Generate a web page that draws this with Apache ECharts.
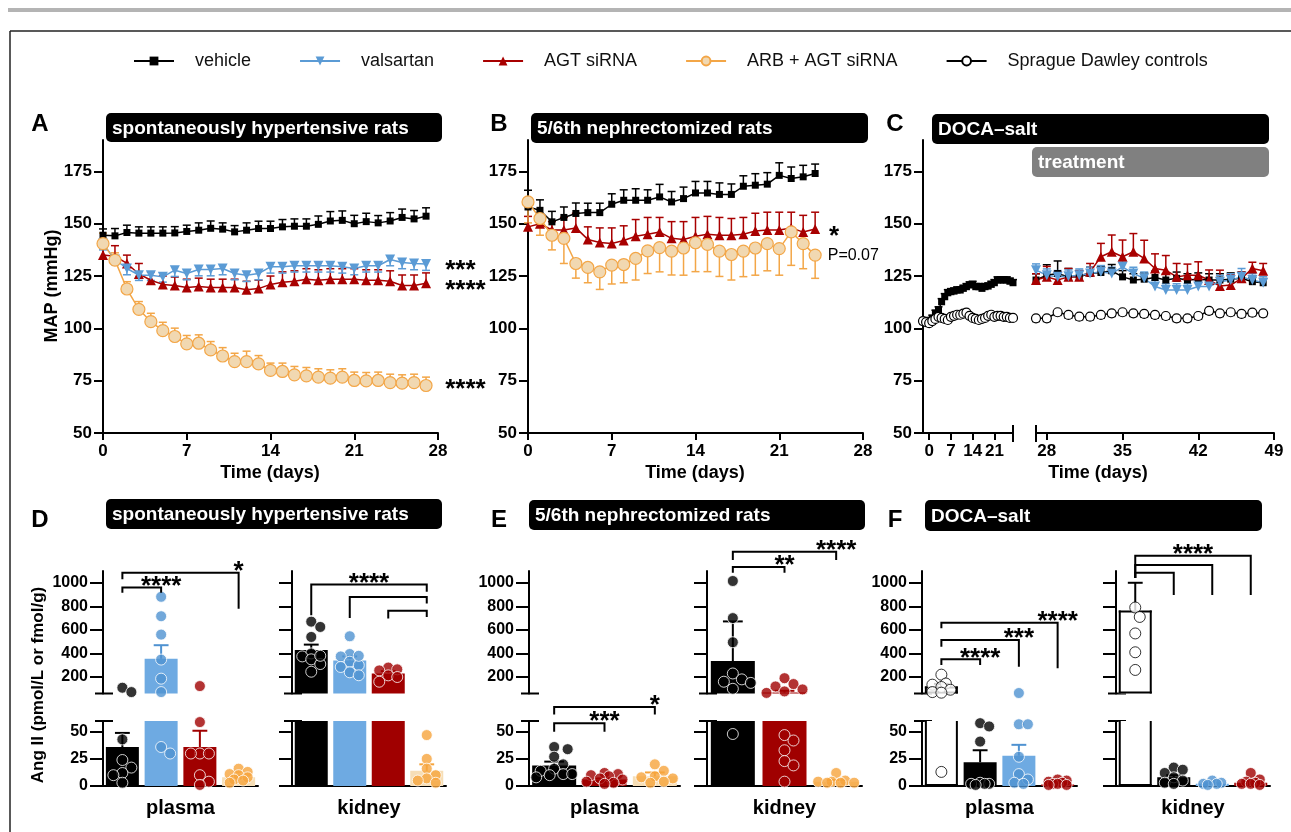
<!DOCTYPE html>
<html>
<head>
<meta charset="utf-8">
<script src="https://cdn.jsdelivr.net/npm/echarts@6/dist/echarts.min.js"></script>
<style>
html, body { margin: 0; padding: 0; background: #fff; }
#chart { width: 1291px; height: 832px; }
</style>
</head>
<body>
<div id="chart"></div>
<script>
// ---------- data: MAP time courses (mmHg) ----------
const mapTicks = [50, 75, 100, 125, 150, 175]

const shrDays = [0, 1, 2, 3, 4, 5, 6, 7, 8, 9, 10, 11, 12, 13, 14, 15, 16, 17, 18, 19, 20, 21, 22, 23, 24, 25, 26, 27]
const shrVehicle = [144.5, 144.2, 145.8, 145.5, 145.5, 145.5, 145.6, 146.3, 146.9, 147.8, 147.4, 146.1, 146.9, 147.7, 147.7, 148.5, 148.8, 148.8, 149.7, 151.3, 151.6, 150, 151, 150.4, 151.3, 153, 152.3, 153.6]
const shrVehicleSem = [3, 3.5, 3.5, 3, 3, 3, 3, 3, 3.5, 3.5, 3, 3, 3.5, 3.5, 3.5, 3.5, 3.5, 3.5, 4, 4.5, 4.5, 4, 4, 3.5, 4, 4, 4, 4]
const shrValsartan = [140.5, 132.9, 128.6, 125.4, 125.4, 124.6, 127.8, 126.2, 128.1, 128.1, 128.6, 126.2, 125.4, 126.2, 129.4, 129.4, 129.9, 129.9, 129.9, 129.9, 129.4, 128.6, 129.9, 129.9, 132.9, 131.5, 131, 130.7]
const shrValsartanSem = [3, 2.5, 3, 2.5, 2.5, 2.5, 3, 3, 3, 3, 3, 3, 3, 3, 3, 3, 3, 3, 3, 3, 3, 3, 3, 3, 3, 3, 3, 3]
const shrAgt = [135, 134.5, 131, 126, 123, 121, 120.5, 119.5, 120, 119.5, 119.5, 119.5, 118.5, 119, 121, 122, 122.5, 123.5, 123, 123.5, 123.5, 123.5, 123, 123, 122.5, 120.5, 120.5, 121.5]
const shrAgtSem = [5, 5, 4, 5, 4, 4, 4, 4, 4, 4, 4, 4, 4, 4, 4, 5, 5, 5, 5, 5, 5, 5, 5, 5, 5, 5, 5, 5]
const shrArb = [140.5, 132.6, 118.8, 109.1, 103.2, 98.9, 96.1, 92.6, 92.9, 89.7, 86.8, 84.1, 84.1, 83, 79.9, 79.4, 77.8, 77.3, 76.7, 76.2, 76.7, 75.1, 74.9, 75.1, 74.1, 73.8, 74.1, 72.7]
const shrArbSem = [5, 3.5, 3.5, 3.7, 4, 4, 4, 4, 4, 4, 4, 4, 5, 4, 3.5, 4, 4, 4, 4, 4, 4, 4, 4, 4, 4, 4, 4, 4]

const nxDays = [0, 1, 2, 3, 4, 5, 6, 7, 8, 9, 10, 11, 12, 13, 14, 15, 16, 17, 18, 19, 20, 21, 22, 23, 24]
const nxVehicle = [158, 156.4, 150.9, 153, 154.9, 155.3, 155.3, 159.3, 161.2, 161.2, 161.2, 162.8, 160.4, 162, 164.7, 164.7, 164, 164, 167.9, 168.4, 168.9, 173.1, 171.6, 172.4, 174]
const nxVehicleSem = [8, 5, 5, 5, 5, 4.5, 4.5, 5, 5, 5.5, 5, 6, 5, 5.5, 5.5, 5.5, 5.5, 5, 5, 5.5, 5.5, 6, 5.5, 5.5, 4.5]
const nxAgt = [148.5, 150, 147, 147, 148, 142.5, 141, 140.5, 142, 144, 145, 146, 143, 142.5, 144, 145, 144.5, 144.5, 145, 146.5, 147, 147, 148, 146, 147.5]
const nxAgtSem = [5, 3, 4, 6, 7, 6, 7, 7.5, 7, 8, 8, 7, 8, 8.5, 9, 8.5, 8.5, 8, 8, 8.5, 8.5, 8.5, 7.5, 8, 8]
const nxArb = [160.4, 152.5, 144.5, 143, 131, 129.1, 127, 130.2, 130.5, 133.4, 137, 138.6, 136.9, 138.4, 140.9, 140.1, 136.9, 135.3, 136.9, 138.4, 140.5, 138.1, 146.1, 140.5, 135]
const nxArbSem = [10, 8, 7, 12, 7, 7.3, 8.4, 9, 8.7, 10.3, 10.8, 11.6, 11.4, 13, 13.8, 13, 12.1, 12.2, 12.2, 13, 13, 12.7, 16, 12, 11.1]

const docaPreDays = [-2, -1, 0, 1, 2, 3, 4, 5, 6, 7, 8, 9, 10, 11, 12, 13, 14, 15, 16, 17, 18, 19, 20, 21, 22, 23, 24, 25, 26, 27]
const docaPreVehicle = [103.2, 103.2, 103.7, 104.8, 107.2, 108.8, 112.7, 115.1, 117, 117.5, 117.8, 118.3, 118.3, 119.1, 119.9, 120.7, 121, 119.9, 119.9, 119.1, 119.9, 120.2, 121, 121.8, 123.1, 123.1, 123.1, 123.1, 122.5, 121.8]
const docaPreVehicleSem = [1.5, 1.5, 1.5, 1.5, 1.5, 1.5, 1.5, 1.5, 1.5, 1.5, 1.5, 1.5, 1.5, 1.5, 1.5, 1.5, 1.5, 1.5, 1.5, 1.5, 1.5, 1.5, 1.5, 1.5, 1.5, 1.5, 1.5, 1.5, 1.5, 1.5]
const docaPreSd = [103.5, 103, 102.5, 103.5, 104.5, 105.5, 105, 104.5, 104, 105.5, 106, 106.5, 106.5, 107, 107.5, 106, 105, 104.5, 104, 104.5, 105, 106, 106.5, 105.5, 106, 106, 105.5, 105.5, 105, 105]

const docaDays = [27, 28, 29, 30, 31, 32, 33, 34, 35, 36, 37, 38, 39, 40, 41, 42, 43, 44, 45, 46, 47, 48]
const docaVehicle = [123.1, 125.4, 126.2, 124.6, 124.6, 126.2, 126.7, 127.5, 124.6, 123.1, 123.5, 124.3, 123.1, 123.9, 123.1, 123.5, 123.1, 123.1, 123.5, 123.9, 122.3, 121.8]
const docaVehicleSem = [3, 5, 6, 4, 3, 3, 3, 3, 3, 3, 3, 3, 3, 3, 3, 3, 3, 3, 3, 3, 2, 2]
const docaValsartan = [127.8, 125.4, 124.6, 124.9, 125.4, 126.2, 127, 126.2, 129.4, 126.2, 123.9, 120, 118.3, 118.3, 118.3, 120, 120, 122.3, 123.1, 124.6, 123.1, 121.8]
const docaValsartanSem = [3, 3, 3, 3, 3, 3, 3, 3, 3, 3, 3, 3, 3, 3, 3, 3, 3, 3, 3, 4, 3, 3]
const docaAgt = [123.1, 124.6, 123.1, 124.6, 124.6, 127, 134.2, 136.6, 134.2, 136.6, 133.4, 128.6, 127.8, 124.6, 125.4, 125.4, 123.1, 120.2, 120.7, 123.9, 128.6, 127.5]
const docaAgtSem = [3, 5, 4, 4, 3, 4, 6.4, 8, 8, 8.7, 8.7, 7, 7, 6.4, 5.3, 6.4, 4.8, 7.6, 5, 3, 3, 3.5]
const docaSd = [104.8, 104.8, 107.7, 106.4, 105.6, 105.6, 106.4, 107.2, 107.7, 107.2, 106.9, 106.4, 105.9, 104.8, 104.8, 105.9, 108.4, 107.2, 107.7, 106.9, 107.5, 107.2]
const docaSdSem = [1.5, 1.5, 1.5, 1.5, 1.5, 1.5, 1.5, 1.5, 1.5, 1.5, 1.5, 1.5, 1.5, 1.5, 1.5, 1.5, 1.5, 1.5, 1.5, 1.5, 1.5, 1.5]

// significance text next to the curves: [day, mmHg, text]
const shrNotes = [[28.6, 130.5, '***'], [28.6, 121, '****'], [28.6, 73.5, '****']]
const nxNotes = [[25.15, 146.4, '*'], [25.05, 135, 'P=0.07']]

// ---------- data: Ang II (pmol/L or fmol/g) ----------
const angUpperTicks = [200, 400, 600, 800, 1000]
const angLowerTicks = [0, 25, 50]

const shrGroups = ['vehicle', 'valsartan', 'agt', 'arb']
const shrPlasmaMean = [36, 355, 36, 8]
const shrPlasmaSem = [13, 115, 15, 2]
const shrPlasmaDots = [[109, 72, 43, 24, 17, 12, 10, 3], [881, 716, 560, 348, 186, 72, 36, 30], [123, 59, 30, 30, 30, 10, 4, 1], [16, 13, 11, 10, 8, 6, 5, 3]]
const shrKidneyMean = [430, 340, 230, 14]
const shrKidneySem = [45, 35, 20, 6]
const shrKidneyDots = [[670, 625, 540, 400, 375, 350, 310, 245, 380], [546, 395, 375, 330, 300, 285, 240, 215, 380], [280, 265, 256, 214, 200, 160], [47, 25, 16, 10, 7, 5, 3]]

const nxGroups = ['vehicle', 'agt', 'arb']
const nxPlasmaMean = [19, 6, 9]
const nxPlasmaSem = [3.5, 1, 3.5]
const nxPlasmaDots = [[36, 34, 27, 20, 16, 14, 11, 11, 10, 8], [12, 11, 10, 9, 7, 6, 4, 3, 2], [20, 14, 9, 8, 7, 4, 3]]
const nxKidneyMean = [335, 68, 4]
const nxKidneySem = [337, 15, 1.5]
const nxKidneyDots = [[1015, 700, 495, 230, 180, 160, 150, 100, 48], [190, 140, 120, 95, 78, 65, 47, 42, 33, 23, 19, 4], [12, 5, 4, 4, 3, 3, 3]]

const docaGroups = ['sd', 'vehicle', 'valsartan', 'agt']
const docaPlasmaMean = [120, 22, 28, 1.5]
const docaPlasmaSem = [22, 11, 10, 0.5]
const docaPlasmaDots = [[220, 145, 135, 115, 92, 72, 67, 13], [58, 55, 41, 3, 2, 2, 2, 1], [64, 57, 57, 27, 11, 6, 3, 2], [6, 5, 4, 3, 2, 2, 1, 1]]
const docaKidneyMean = [765, 8, 2, 3]
const docaKidneySem = [235, 2, 0.5, 1]
const docaKidneyDots = [[790, 710, 570, 410, 260], [17, 15, 12, 8, 5, 3, 2], [5, 3, 2, 2, 1], [12, 6, 4, 3, 2, 2, 1]]

// brackets: [from group, to group, bar height, left leg end, right leg end, text, text at]
const shrPlasmaBrackets = [[0, 1, 960, 915, 915, '****', 'end'], [0, 3, 1085, 1030, 780, '*', 'end']]
const shrKidneyBrackets = [[0, 3, 986, 725, 923, '****', 'mid'], [1, 3, 880, 700, 824, '', ''], [2, 3, 762, 697, 710, '', '']]
const nxPlasmaBrackets = [[0, 1, 58, 50, 50, '***', 'end'], [0, 2, 73, 66, 66, '*', 'end']]
const nxKidneyBrackets = [[0, 1, 1134, 1086, 1086, '**', 'end'], [0, 2, 1264, 1193, 1193, '****', 'end']]
const docaPlasmaBrackets = [[0, 1, 350, 302, 302, '****', 'end'], [0, 2, 514, 457, 288, '***', 'end'], [0, 3, 661, 613, 274, '****', 'end']]
const docaKidneyBrackets = [[0, 1, 1086, 1040, 896, '', ''], [0, 2, 1151, 1040, 896, '', ''], [0, 3, 1230, 1040, 896, '****', 'mid']]

// ---------- styles ----------
const FONT = '"Liberation Sans", Arial, Helvetica, sans-serif'
const BLACK = '#000000'
const BLUE = '#5b9bd5'
const RED = '#a80000'
const ORANGE = '#f3a647'
const BEIGE = '#f1d8b1'

const GROUP = {
	sd: { bar: '#ffffff', border: BLACK, dot: '#ffffff', dotBorder: BLACK, err: BLACK },
	vehicle: { bar: BLACK, dot: BLACK, dotBorder: '#ffffff', err: BLACK },
	valsartan: { bar: '#6eaae2', dot: '#4f92d1', dotBorder: '#ffffff', err: '#4f92d1' },
	agt: { bar: '#a00000', dot: '#a00000', dotBorder: '#ffffff', err: '#a00000' },
	arb: { bar: '#f6deb6', dot: '#f6a43c', dotBorder: '#ffffff', err: '#f6a43c' }
}

const LINE = {
	vehicle: { name: 'vehicle', symbol: 'rect', size: 7, fill: BLACK, border: BLACK, bw: 0, line: BLACK },
	valsartan: { name: 'valsartan', symbol: 'triangle', rotate: 180, size: 10, fill: BLUE, border: BLUE, bw: 0, line: BLUE },
	agt: { name: 'AGT siRNA', symbol: 'triangle', size: 10, fill: RED, border: RED, bw: 0, line: RED },
	arb: { name: 'ARB + AGT siRNA', symbol: 'circle', size: 12, fill: BEIGE, border: ORANGE, bw: 1.2, line: ORANGE },
	sd: { name: 'Sprague Dawley controls', symbol: 'circle', size: 9, fill: '#ffffff', border: BLACK, bw: 1.2, line: BLACK }
}

const TOP_Y = 140
const TOP_H = 293
const UP_TOP = 571
const UP_H = 122.5
const LO_TOP = 721
const LO_H = 65

const grids = []
const xAxes = []
const yAxes = []
const series = []
const graphics = []

const axisLineStyle = { color: BLACK, width: 2 }
const tickFont = size => ({ color: BLACK, fontSize: size, fontWeight: 'bold', fontFamily: FONT, formatter: v => String(v) })

function errorBar(colorOf, dir, capW, lw) {
	return (params, api) => {
		const x = api.value(0)
		const y = api.value(1)
		const e = api.value(2)
		const p0 = api.coord([x, y])
		const p1 = api.coord([x, y + dir * e])
		const cs = params.coordSys
		const top = cs.y
		const bot = cs.y + cs.height
		const clamp = v => Math.min(Math.max(v, top), bot)
		const y0 = clamp(p0[1])
		const y1 = clamp(p1[1])
		const color = colorOf(params.dataIndex)
		const children = []
		if (Math.abs(y1 - y0) > 0.1) {
			children.push({ type: 'line', shape: { x1: p0[0], y1: y0, x2: p0[0], y2: y1 }, style: { stroke: color, lineWidth: lw } })
		}
		if (p1[1] >= top && p1[1] <= bot) {
			children.push({ type: 'line', shape: { x1: p0[0] - capW / 2, y1: p1[1], x2: p0[0] + capW / 2, y2: p1[1] }, style: { stroke: color, lineWidth: lw } })
		}
		return { type: 'group', children }
	}
}

// bars cut at the axis break; outlined bars keep open ends where they are cut
function barRender(groups, barW) {
	return (params, api) => {
		const g = GROUP[groups[params.dataIndex]]
		const x = api.value(0)
		const v = api.value(1)
		const cs = params.coordSys
		const top = cs.y
		const bot = cs.y + cs.height
		const clamp = y => Math.min(Math.max(y, top), bot)
		const pb = api.coord([x, 0])
		const pt = api.coord([x, v])
		const yb = clamp(pb[1])
		const yt = clamp(pt[1])
		if (yb - yt < 0.1) return null
		const x0 = pb[0] - barW / 2
		const x1 = pb[0] + barW / 2
		const children = [{ type: 'rect', shape: { x: x0, y: yt, width: barW, height: yb - yt }, style: { fill: g.bar } }]
		if (g.border) {
			const ls = { stroke: g.border, lineWidth: 2 }
			children.push({ type: 'line', shape: { x1: x0 + 1, y1: yb, x2: x0 + 1, y2: yt }, style: ls })
			children.push({ type: 'line', shape: { x1: x1 - 1, y1: yb, x2: x1 - 1, y2: yt }, style: ls })
			children.push({ type: 'line', shape: { x1: x0, y1: yb - 1, x2: x1, y2: yb - 1 }, style: ls })
			if (pt[1] >= top) children.push({ type: 'line', shape: { x1: x0, y1: yt + 1, x2: x1, y2: yt + 1 }, style: ls })
		}
		return { type: 'group', children }
	}
}

function topGrid(left, width, xMin, xMax, xTicks, showY) {
	const gi = grids.length
	grids.push({ left, top: TOP_Y, width, height: TOP_H, containLabel: false, outerBoundsMode: 'none' })
	xAxes.push({
		gridIndex: gi, type: 'value', min: xMin, max: xMax,
		axisLine: { onZero: false, lineStyle: axisLineStyle },
		axisTick: { length: 7, customValues: xTicks, lineStyle: axisLineStyle },
		axisLabel: Object.assign({ customValues: xTicks, margin: 10 }, tickFont(17)),
		splitLine: { show: false }
	})
	yAxes.push({
		gridIndex: gi, type: 'value', min: 50, max: 190, show: showY,
		axisLine: { show: true, onZero: false, lineStyle: axisLineStyle },
		axisTick: { show: true, length: 9, customValues: mapTicks, lineStyle: axisLineStyle },
		axisLabel: Object.assign({ customValues: mapTicks, margin: 11 }, tickFont(17)),
		splitLine: { show: false }
	})
	return gi
}

function addCurve(gi, key, days, vals, sem, dir) {
	const s = LINE[key]
	if (sem) {
		series.push({
			type: 'custom', xAxisIndex: gi, yAxisIndex: gi, silent: true, encode: { x: 0, y: 1 },
			data: days.map((d, i) => [d, vals[i], sem[i]]),
			renderItem: errorBar(() => s.line, dir, 8, 1.5)
		})
	}
	series.push({
		type: 'line', name: s.name, xAxisIndex: gi, yAxisIndex: gi,
		data: days.map((d, i) => [d, vals[i]]),
		symbol: s.symbol, symbolSize: s.size, symbolRotate: s.rotate || 0, showAllSymbol: true,
		lineStyle: { color: s.line, width: 1.5 },
		itemStyle: { color: s.fill, borderColor: s.border, borderWidth: s.bw }
	})
}

function addNotes(gi, notes) {
	series.push({
		type: 'custom', xAxisIndex: gi, yAxisIndex: gi, silent: true, clip: false, encode: { x: 0, y: 1 },
		data: notes.map(n => [n[0], n[1]]),
		renderItem: (params, api) => {
			const n = notes[params.dataIndex]
			const p = api.coord([n[0], n[1]])
			const star = n[2].indexOf('*') >= 0
			return {
				type: 'text', x: p[0], y: p[1] + (star ? 6 : 0),
				style: { text: n[2], fill: BLACK, font: star ? 'bold 26px ' + FONT : '16px ' + FONT, align: 'left', verticalAlign: 'middle', textAlign: 'left', textVerticalAlign: 'middle' }
			}
		}
	})
}

// pixel y of a value on the broken Ang II axis
function angPx(v) {
	return v <= 60 ? LO_TOP + LO_H - v * LO_H / 60 : UP_TOP + UP_H - (v - 60) * UP_H / 1040
}

// deterministic beeswarm: spread dots sideways only where they collide
function swarm(vals, band, lim) {
	const placed = []
	const out = []
	const order = vals.map((v, i) => i).sort((a, b) => vals[b] - vals[a])
	order.forEach(i => {
		const py = angPx(vals[i])
		let best = 0
		let bestD = -1
		for (let k = 0; k <= 10 && bestD !== Infinity; k++) {
			const cands = k === 0 ? [0] : [k * 4.5, -k * 4.5]
			for (const dx of cands) {
				if (Math.abs(dx) > lim) continue
				let d = Infinity
				placed.forEach(q => { d = Math.min(d, Math.hypot(q[0] - dx, q[1] - py)) })
				if (d >= 9.5) { best = dx; bestD = Infinity; break }
				if (d > bestD) { bestD = d; best = dx }
			}
		}
		placed.push([best, py])
		out[i] = best / band
	})
	return out
}

function bracketSeries(gi, list) {
	return {
		type: 'custom', xAxisIndex: gi, yAxisIndex: gi, silent: true, clip: false, z: 5, encode: { x: 0, y: 1 },
		data: list.map(b => [b[0], b[2]]),
		renderItem: (params, api) => {
			const b = list[params.dataIndex]
			const pl = api.coord([b[0], b[3]])
			const p1 = api.coord([b[0], b[2]])
			const p2 = api.coord([b[1], b[2]])
			const pr = api.coord([b[1], b[4]])
			const children = [{ type: 'polyline', shape: { points: [pl, p1, p2, pr] }, style: { stroke: BLACK, lineWidth: 2, fill: null } }]
			if (b[5]) {
				const tx = b[6] === 'mid' ? (p1[0] + p2[0]) / 2 : p2[0]
				children.push({
					type: 'text', x: tx, y: p1[1] - 1,
					style: { text: b[5], fill: BLACK, font: 'bold 26px ' + FONT, align: 'center', verticalAlign: 'middle', textAlign: 'center', textVerticalAlign: 'middle' }
				})
			}
			return { type: 'group', children }
		}
	}
}

function barPanel(left, width, groups, means, sems, dots, barW, showLabels, upBrackets, loBrackets, label) {
	const n = means.length
	const band = width / n
	const jitter = dots.map(vals => swarm(vals, band, barW / 2 - 4))
	;[true, false].forEach(upper => {
		const gi = grids.length
		const ticks = upper ? angUpperTicks : angLowerTicks
		grids.push({ left, width, top: upper ? UP_TOP : LO_TOP, height: upper ? UP_H : LO_H, containLabel: false, outerBoundsMode: 'none' })
		xAxes.push({
			gridIndex: gi, type: 'value', min: -0.5, max: n - 0.5, show: !upper,
			axisLine: { show: true, onZero: false, lineStyle: axisLineStyle },
			axisTick: { show: false }, axisLabel: { show: false }, splitLine: { show: false }
		})
		yAxes.push({
			gridIndex: gi, type: 'value', min: upper ? 60 : 0, max: upper ? 1100 : 60,
			axisLine: { show: true, onZero: false, lineStyle: axisLineStyle },
			axisTick: { show: true, length: 13, customValues: ticks, lineStyle: axisLineStyle },
			axisLabel: Object.assign({ show: showLabels, customValues: ticks, margin: 15 }, tickFont(16)),
			splitLine: { show: false }
		})
		series.push({
			type: 'custom', xAxisIndex: gi, yAxisIndex: gi, silent: true, z: 2, encode: { x: 0, y: 1 },
			data: means.map((v, i) => [i, v]),
			renderItem: barRender(groups, barW)
		})
		series.push({
			type: 'custom', xAxisIndex: gi, yAxisIndex: gi, silent: true, z: 3, encode: { x: 0, y: 1 },
			data: means.map((v, i) => [i, v, sems[i]]),
			renderItem: errorBar(i => GROUP[groups[i]].err, 1, barW * 0.45, 2)
		})
		const pts = []
		dots.forEach((vals, i) => {
			const g = GROUP[groups[i]]
			vals.forEach((v, k) => pts.push({ value: [i + jitter[i][k], v], itemStyle: { color: g.dot, borderColor: g.dotBorder, borderWidth: 1 } }))
		})
		series.push({ type: 'scatter', xAxisIndex: gi, yAxisIndex: gi, silent: true, clip: true, symbolSize: 11, z: 4, data: pts })
		const br = upper ? upBrackets : loBrackets
		if (br && br.length) series.push(bracketSeries(gi, br))
	})
	// axis break caps
	;[UP_TOP + UP_H, LO_TOP].forEach(y => {
		graphics.push({ type: 'line', shape: { x1: left - 8, y1: y, x2: left + 10, y2: y }, style: { stroke: BLACK, lineWidth: 2 } })
	})
	graphics.push(textEl(left + width / 2, 808, label, 'bold 20px', 'center'))
}

function textEl(x, y, text, weight, align, color, rotation) {
	return {
		type: 'text', x, y, rotation: rotation || 0,
		style: { text, font: weight + ' ' + FONT, fill: color || BLACK, align, verticalAlign: 'middle', textAlign: align, textVerticalAlign: 'middle' }
	}
}

function titleBox(x, y, w, h, text, fill) {
	graphics.push({ type: 'rect', shape: { x, y, width: w, height: h, r: 5 }, style: { fill } })
	graphics.push(textEl(x + 6, y + h / 2 + 1, text, 'bold 19px', 'left', '#ffffff'))
}

// ---------- top row ----------
const gA = topGrid(103, 335, 0, 28, [0, 7, 14, 21, 28], true)
addCurve(gA, 'vehicle', shrDays, shrVehicle, shrVehicleSem, 1)
addCurve(gA, 'agt', shrDays, shrAgt, shrAgtSem, 1)
addCurve(gA, 'valsartan', shrDays, shrValsartan, shrValsartanSem, -1)
addCurve(gA, 'arb', shrDays, shrArb, shrArbSem, 1)
addNotes(gA, shrNotes)

const gB = topGrid(528, 335, 0, 28, [0, 7, 14, 21, 28], true)
addCurve(gB, 'vehicle', nxDays, nxVehicle, nxVehicleSem, 1)
addCurve(gB, 'agt', nxDays, nxAgt, nxAgtSem, 1)
addCurve(gB, 'arb', nxDays, nxArb, nxArbSem, -1)
addNotes(gB, nxNotes)

const gC1 = topGrid(923, 90, -2, 27, [0, 7, 14, 21], true)
addCurve(gC1, 'vehicle', docaPreDays, docaPreVehicle, docaPreVehicleSem, 1)
addCurve(gC1, 'sd', docaPreDays, docaPreSd, null, 1)

const gC2 = topGrid(1036, 238, 27, 49, [28, 35, 42, 49], false)
addCurve(gC2, 'vehicle', docaDays, docaVehicle, docaVehicleSem, 1)
addCurve(gC2, 'agt', docaDays, docaAgt, docaAgtSem, 1)
addCurve(gC2, 'valsartan', docaDays, docaValsartan, docaValsartanSem, 1)
addCurve(gC2, 'sd', docaDays, docaSd, docaSdSem, -1)

// ---------- bottom row ----------
barPanel(103, 155, shrGroups, shrPlasmaMean, shrPlasmaSem, shrPlasmaDots, 33, true, shrPlasmaBrackets, null, 'plasma')
barPanel(292, 154, shrGroups, shrKidneyMean, shrKidneySem, shrKidneyDots, 33, false, shrKidneyBrackets, null, 'kidney')
barPanel(529, 151, nxGroups, nxPlasmaMean, nxPlasmaSem, nxPlasmaDots, 44, true, null, nxPlasmaBrackets, 'plasma')
barPanel(707, 155, nxGroups, nxKidneyMean, nxKidneySem, nxKidneyDots, 44, false, nxKidneyBrackets, null, 'kidney')
barPanel(922, 155, docaGroups, docaPlasmaMean, docaPlasmaSem, docaPlasmaDots, 33, true, docaPlasmaBrackets, null, 'plasma')
barPanel(1116, 154, docaGroups, docaKidneyMean, docaKidneySem, docaKidneyDots, 33, false, docaKidneyBrackets, null, 'kidney')

// ---------- frame, titles, labels ----------
graphics.push({ type: 'rect', shape: { x: 8, y: 8, width: 1283, height: 4 }, style: { fill: '#b4b4b4' } })
graphics.push({ type: 'line', shape: { x1: 10, y1: 31, x2: 1291, y2: 31 }, style: { stroke: '#222', lineWidth: 1.5 } })
graphics.push({ type: 'line', shape: { x1: 10, y1: 31, x2: 10, y2: 832 }, style: { stroke: '#222', lineWidth: 1.5 } })

titleBox(106, 113, 336, 29, 'spontaneously hypertensive rats', BLACK)
titleBox(531, 113, 337, 30, '5/6th nephrectomized rats', BLACK)
titleBox(932, 114, 337, 30, 'DOCA–salt', BLACK)
titleBox(1032, 147, 237, 30, 'treatment', '#808080')
titleBox(106, 499, 336, 30, 'spontaneously hypertensive rats', BLACK)
titleBox(529, 500, 336, 30, '5/6th nephrectomized rats', BLACK)
titleBox(925, 500, 337, 31, 'DOCA–salt', BLACK)

;[['A', 40, 124], ['B', 499, 124], ['C', 895, 124], ['D', 40, 520], ['E', 499, 520], ['F', 895, 520]].forEach(l => {
	graphics.push(textEl(l[1], l[2], l[0], 'bold 24px', 'center'))
})

graphics.push(textEl(270, 473, 'Time (days)', 'bold 18px', 'center'))
graphics.push(textEl(695, 473, 'Time (days)', 'bold 18px', 'center'))
graphics.push(textEl(1098, 473, 'Time (days)', 'bold 18px', 'center'))
graphics.push(textEl(52, 286, 'MAP (mmHg)', 'bold 18px', 'center', BLACK, Math.PI / 2))
graphics.push(textEl(38, 685, 'Ang II (pmol/L or fmol/g)', 'bold 17px', 'center', BLACK, Math.PI / 2))

// broken time axis in C
;[1013, 1036].forEach(x => {
	graphics.push({ type: 'line', shape: { x1: x, y1: 425, x2: x, y2: 442 }, style: { stroke: BLACK, lineWidth: 2 } })
})

const chart = echarts.init(document.getElementById('chart'))
chart.setOption({
	animation: false,
	backgroundColor: '#ffffff',
	legend: {
		data: ['vehicle', 'valsartan', 'AGT siRNA', 'ARB + AGT siRNA', 'Sprague Dawley controls'],
		left: 133, top: 52, padding: 0, itemWidth: 40, itemHeight: 11, itemGap: 48,
		selectedMode: false,
		textStyle: { color: '#111', fontSize: 18, fontFamily: FONT, padding: [0, 0, 0, 16] }
	},
	grid: grids,
	xAxis: xAxes,
	yAxis: yAxes,
	series,
	graphic: { elements: graphics }
})
</script>
</body>
</html>
